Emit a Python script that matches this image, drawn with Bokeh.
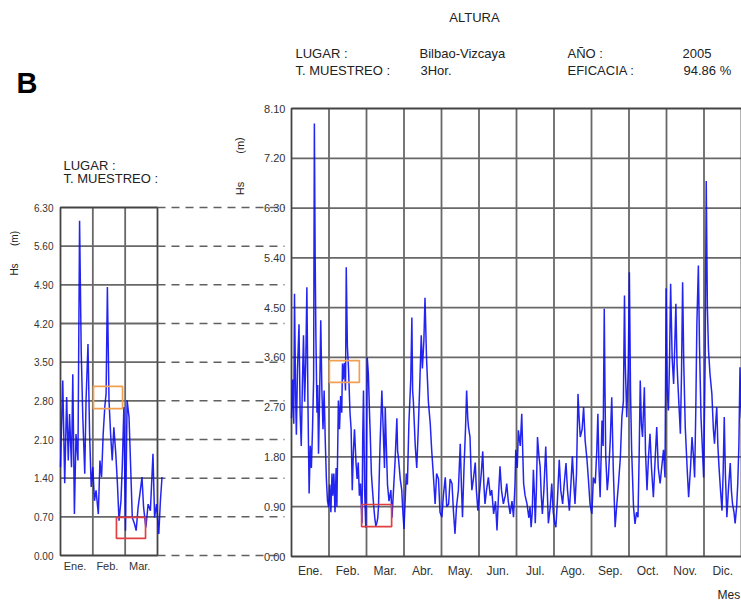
from bokeh.plotting import figure
from bokeh.models import (Range1d, LinearAxis, FixedTicker, PrintfTickFormatter,
                          CustomJSTickFormatter)
from bokeh.core.properties import value
from bokeh.embed import file_html
from bokeh.resources import INLINE

# ---------------- data ----------------
# main panel: time in months since 1 Jan 2005, Hs in metres
main_t = [0.00, 0.03, 0.06, 0.08, 0.11, 0.13, 0.16, 0.20, 0.23, 0.26, 0.29, 0.32, 0.35, 0.38, 0.41, 0.44,
          0.47, 0.50, 0.53, 0.56, 0.59, 0.61, 0.63, 0.65, 0.68, 0.70, 0.72, 0.75, 0.78, 0.81, 0.84, 0.87,
          0.90, 0.93, 0.96, 0.99,
          1.02, 1.05, 1.08, 1.10, 1.13, 1.16, 1.19, 1.21, 1.25, 1.28, 1.31, 1.34, 1.36, 1.38, 1.41, 1.44,
          1.46, 1.49, 1.52, 1.56, 1.59, 1.62, 1.65, 1.68, 1.72, 1.75, 1.78, 1.81, 1.84, 1.88, 1.90, 1.92,
          1.95, 1.98,
          2.00, 2.02, 2.05, 2.08, 2.10, 2.13, 2.16, 2.19, 2.22, 2.25, 2.28, 2.30, 2.32, 2.36, 2.41, 2.45,
          2.48, 2.50, 2.52, 2.56, 2.60, 2.65, 2.68, 2.72, 2.76, 2.81, 2.83, 2.85, 2.90, 2.94, 2.97, 3.00,
          3.03, 3.06, 3.09, 3.13, 3.18, 3.21, 3.23, 3.25, 3.30, 3.34, 3.38, 3.42, 3.46, 3.49, 3.53, 3.56,
          3.60, 3.65, 3.70, 3.74, 3.78, 3.83, 3.87, 3.92, 3.96,
          4.01, 4.05, 4.10, 4.14, 4.19, 4.23, 4.28, 4.32, 4.36, 4.40, 4.45, 4.50, 4.53, 4.56, 4.60, 4.64,
          4.67, 4.70, 4.72, 4.76, 4.79, 4.81, 4.85, 4.90, 4.93, 4.97,
          5.02, 5.06, 5.10, 5.13, 5.16, 5.20, 5.25, 5.30, 5.34, 5.39, 5.44, 5.48, 5.52, 5.56, 5.60, 5.65,
          5.70, 5.74, 5.78, 5.83, 5.88, 5.92, 5.96,
          5.98, 6.02, 6.05, 6.10, 6.14, 6.17, 6.19, 6.23, 6.28, 6.33, 6.36, 6.39, 6.42, 6.45, 6.48, 6.50,
          6.53, 6.56, 6.60, 6.63, 6.66, 6.69, 6.73, 6.78, 6.81, 6.85, 6.90, 6.94, 6.98,
          7.02, 7.05, 7.09, 7.14, 7.18, 7.23, 7.27, 7.32, 7.36, 7.41, 7.45, 7.49, 7.53, 7.56, 7.60, 7.64,
          7.67, 7.70, 7.75, 7.79, 7.83, 7.88, 7.92, 7.96,
          8.01, 8.05, 8.10, 8.14, 8.17, 8.20, 8.23, 8.28, 8.31, 8.34, 8.36, 8.38, 8.42, 8.45, 8.50, 8.54,
          8.58, 8.63, 8.67, 8.72, 8.77, 8.81, 8.85, 8.88, 8.90, 8.94, 8.98,
          9.01, 9.04, 9.07, 9.12, 9.16, 9.20, 9.24, 9.27, 9.30, 9.33, 9.36, 9.41, 9.44, 9.48, 9.52, 9.56,
          9.60, 9.65, 9.70, 9.74, 9.78, 9.83, 9.87, 9.92, 9.96,
          9.99, 10.02, 10.05, 10.08, 10.11, 10.15, 10.19, 10.22, 10.25, 10.28, 10.30, 10.37, 10.40, 10.43,
          10.46, 10.50, 10.55, 10.59, 10.64, 10.68, 10.72, 10.75, 10.78, 10.81, 10.85, 10.88, 10.92, 10.96,
          10.99,
          11.03, 11.06, 11.09, 11.12, 11.16, 11.21, 11.25, 11.28, 11.31, 11.34, 11.37, 11.40, 11.44, 11.48,
          11.51, 11.54, 11.57, 11.61, 11.65, 11.70, 11.73, 11.76, 11.80, 11.83, 11.87, 11.90, 11.93, 11.96,
          11.98, 12.00]
main_hs = [2.5, 3.2, 2.4, 4.75, 2.9, 2.2, 3.4, 4.2, 2.6, 2.0, 3.1, 4.0, 2.8, 3.5, 4.87, 2.7,
           1.14, 2.0, 1.6, 2.3, 3.2, 7.83, 5.5, 4.0, 2.6, 3.1, 1.86, 2.9, 4.27, 3.0, 2.3, 3.0,
           2.1, 1.4, 1.0, 0.89,
           1.3, 0.8, 1.5, 1.1, 1.5, 0.8, 1.6, 0.9, 2.82, 2.3, 2.9, 2.6, 3.49, 3.2, 3.5, 3.0,
           5.23, 3.8, 3.4, 2.6, 2.3, 1.2, 1.9, 2.3, 1.7, 1.4, 1.7, 1.1, 1.32, 0.6, 2.2, 3.0,
           1.2, 0.52,
           1.8, 3.6, 3.3, 2.6, 2.2, 1.5, 1.2, 0.93, 0.7, 0.55, 0.62, 0.7, 0.9, 2.0, 3.0, 2.2,
           1.6, 2.7, 2.2, 1.3, 1.0, 1.2, 0.7, 1.2, 1.7, 2.5, 1.9, 1.8, 1.4, 1.2, 0.8, 0.5,
           1.0, 1.5, 1.3, 2.4, 3.2, 4.32, 3.0, 2.8, 2.0, 1.6, 2.3, 3.1, 4.0, 3.4, 3.9, 4.68,
           3.6, 2.8, 2.4, 1.9, 1.5, 0.95, 1.5, 1.4, 0.8,
           0.71, 1.1, 1.43, 0.9, 0.95, 1.4, 1.32, 0.8, 0.41, 0.9, 1.2, 2.04, 1.3, 0.71, 1.6, 2.3,
           3.0, 2.5, 2.34, 2.16, 1.5, 1.2, 1.4, 1.7, 1.2, 0.83,
           1.2, 1.5, 1.9, 1.3, 0.95, 1.2, 1.43, 1.1, 1.2, 0.77, 1.0, 0.47, 1.1, 1.63, 1.2, 0.95,
           1.1, 1.32, 1.0, 0.77, 1.0, 0.71, 1.3,
           1.93, 1.6, 2.28, 2.0, 2.58, 1.8, 1.32, 1.1, 0.95, 0.7, 0.9, 0.53, 0.8, 1.57, 1.1, 0.6,
           1.2, 2.16, 1.8, 1.63, 1.1, 0.77, 1.2, 1.99, 1.4, 0.6, 0.9, 1.32, 0.8,
           0.6, 0.53, 1.0, 1.75, 1.2, 0.95, 1.3, 1.69, 1.2, 0.83, 1.3, 1.81, 1.3, 0.95, 1.5, 2.94,
           2.5, 2.16, 2.3, 2.7, 2.1, 1.75, 1.37, 0.95,
           0.77, 1.43, 1.32, 1.9, 2.58, 1.6, 1.07, 2.46, 2.0, 4.48, 3.0, 1.81, 1.2, 1.43, 2.1, 2.88,
           1.6, 0.53, 0.9, 1.32, 1.8, 2.52, 2.8, 4.72, 3.5, 2.52, 3.4,
           5.14, 3.0, 1.93, 0.9, 0.59, 0.8, 0.71, 1.8, 3.18, 2.4, 2.16, 3.06, 1.9, 1.2, 1.8, 2.22,
           1.6, 1.07, 1.8, 2.34, 1.6, 1.32, 1.6, 1.93, 1.43,
           4.85, 3.0, 2.64, 3.5, 4.93, 3.6, 3.12, 3.8, 4.57, 3.5, 3.18, 2.22, 3.3, 4.96,
           3.5, 2.34, 1.6, 1.07, 1.6, 2.16, 1.8, 1.43, 2.6, 4.21, 5.26, 3.8, 2.52, 1.9,
           1.43,
           3.5, 6.79, 4.5, 3.73, 3.3, 2.94, 2.3, 2.04, 2.4, 2.7, 2.0, 1.62, 1.2, 0.83,
           1.5, 2.52, 1.5, 0.71, 1.2, 1.69, 1.2, 0.95, 0.8, 0.6, 0.9, 1.32, 2.0, 3.42,
           2.8, 2.5]

# left panel (Jan-Mar)
left_t = [0.00, 0.07, 0.13, 0.19, 0.24, 0.28, 0.34, 0.38, 0.43, 0.48, 0.54, 0.59, 0.64, 0.69, 0.75,
          0.79, 0.85, 0.90, 0.95, 1.00, 1.05, 1.10, 1.17, 1.22, 1.27, 1.32, 1.37, 1.41, 1.45, 1.50,
          1.55, 1.60, 1.65, 1.71, 1.76, 1.81, 1.87, 1.91, 1.96, 2.01, 2.06, 2.12, 2.17, 2.22, 2.29,
          2.34, 2.40, 2.47, 2.52, 2.57, 2.64, 2.71, 2.78, 2.86, 2.91, 2.97, 3.04, 3.09, 3.14]
left_hs = [1.6, 3.17, 1.31, 2.87, 1.72, 2.56, 1.6, 3.28, 0.75, 2.2, 1.72, 6.06, 3.71, 2.5, 1.48,
           2.81, 3.83, 2.2, 1.24, 1.6, 0.99, 1.18, 0.75, 1.72, 1.42, 2.2, 2.69, 2.93, 4.86, 2.81,
           2.2, 1.72, 2.32, 1.84, 1.31, 0.63, 0.99, 1.6, 2.69, 0.45, 2.81, 2.5, 1.6, 0.69, 0.57,
           0.45, 0.87, 1.18, 1.42, 0.87, 0.51, 0.93, 0.81, 1.84, 0.69, 0.93, 0.39, 0.99, 1.42]

main_months = ["Ene.", "Feb.", "Mar.", "Abr.", "May.", "Jun.", "Jul.", "Ago.", "Sep.", "Oct.", "Nov.", "Dic."]
left_months = ["Ene.", "Feb.", "Mar."]
main_yticks = [0.0, 0.9, 1.8, 2.7, 3.6, 4.5, 5.4, 6.3, 7.2, 8.1]
left_yticks = [0.0, 0.7, 1.4, 2.1, 2.8, 3.5, 4.2, 4.9, 5.6, 6.3]

# highlighted windows (months, Hs)
main_boxes = dict(left=[1.01, 1.87], right=[1.81, 2.67], bottom=[3.15, 0.54], top=[3.54, 0.94],
                  color=["#F0A050", "#E04040"])
left_boxes = dict(left=[1.02, 1.73], right=[1.92, 2.63], bottom=[2.66, 0.31], top=[3.06, 0.69],
                  color=["#F0A050", "#E04040"])

# ---------------- layout constants (pixels) ----------------
W, H = 741, 601
MX0, MXS = 291.0, 37.5            # main: x pixel of month 0, pixels per month
MY0, MYS = 556.0, 448.0 / 8.1     # main: y pixel of Hs 0, pixels per metre
LX0, LXS = 60.0, 97.0 / 3.0       # left panel
LY0, LYS = 555.0, 348.0 / 6.3
DASH_END = 284.0

FONT = "Liberation Sans"
GRID = "#686868"
EDGE = "#444444"
BLUE = "#0c0cf0"

p = figure(width=W, height=H, output_backend="svg", toolbar_location=None,
           x_axis_type=None, y_axis_type=None,
           x_range=Range1d(-MX0 / MXS, (W - MX0) / MXS),
           y_range=Range1d(-(H - MY0) / MYS, MY0 / MYS),
           min_border=0, min_border_left=0, min_border_right=0,
           min_border_top=0, min_border_bottom=0)
p.outline_line_color = None
p.background_fill_color = "white"
p.border_fill_color = "white"
p.extra_x_ranges = {"L": Range1d(-LX0 / LXS, (W - LX0) / LXS), "px": Range1d(0, W)}
p.extra_y_ranges = {"L": Range1d(-(H - LY0) / LYS, LY0 / LYS), "px": Range1d(H, 0)}

# ---------------- main panel ----------------
n_m = len(main_months)
ytop = main_yticks[-1]
p.segment(x0=list(range(1, n_m)), x1=list(range(1, n_m)), y0=[0] * (n_m - 1), y1=[ytop] * (n_m - 1),
          line_color=GRID, line_width=1.8)
inner = main_yticks[1:-1]
p.segment(x0=[0] * len(inner), x1=[n_m] * len(inner), y0=inner, y1=inner, line_color=GRID, line_width=1.8)
p.quad(left=[0], right=[n_m], bottom=[0], top=[ytop], fill_alpha=0, line_color=EDGE, line_width=1.8)
p.line(main_t, main_hs, line_color=BLUE, line_width=1.5, line_alpha=0.9)
p.quad(left=main_boxes["left"], right=main_boxes["right"], bottom=main_boxes["bottom"], top=main_boxes["top"],
       fill_alpha=0, line_color=main_boxes["color"], line_width=1.7)

# ---------------- left panel ----------------
n_l = len(left_months)
ltop = left_yticks[-1]
p.segment(x0=list(range(1, n_l)), x1=list(range(1, n_l)), y0=[0] * (n_l - 1), y1=[ltop] * (n_l - 1),
          line_color=GRID, line_width=1.8, x_range_name="L", y_range_name="L")
linner = left_yticks[1:-1]
p.segment(x0=[0] * len(linner), x1=[n_l] * len(linner), y0=linner, y1=linner,
          line_color=GRID, line_width=1.8, x_range_name="L", y_range_name="L")
p.quad(left=[0], right=[n_l], bottom=[0], top=[ltop], fill_alpha=0, line_color=EDGE, line_width=1.8,
       x_range_name="L", y_range_name="L")
# dashed connectors from the left panel's grid to the main panel
dash_x1 = (DASH_END - LX0) / LXS
p.segment(x0=[n_l] * len(left_yticks), x1=[dash_x1] * len(left_yticks), y0=left_yticks, y1=left_yticks,
          line_color="#606060", line_width=1.5, line_dash="8 6", x_range_name="L", y_range_name="L")
p.line(left_t, left_hs, line_color=BLUE, line_width=1.5, line_alpha=0.9, x_range_name="L", y_range_name="L")
p.quad(left=left_boxes["left"], right=left_boxes["right"], bottom=left_boxes["bottom"], top=left_boxes["top"],
       fill_alpha=0, line_color=left_boxes["color"], line_width=1.7, x_range_name="L", y_range_name="L")

# ---------------- axes ----------------
def style(ax, size, standoff):
    ax.axis_line_color = None
    ax.major_tick_line_color = None
    ax.minor_tick_line_color = None
    ax.major_tick_in = 0
    ax.major_tick_out = 0
    ax.major_label_text_font = FONT
    ax.major_label_text_font_size = size
    ax.major_label_text_color = "#333333"
    ax.major_label_standoff = standoff

ay = LinearAxis(fixed_location=0, ticker=FixedTicker(ticks=main_yticks),
                formatter=PrintfTickFormatter(format="%.2f"))
style(ay, "11px", 6)
p.add_layout(ay, "left")

ax = LinearAxis(fixed_location=0, ticker=FixedTicker(ticks=[i + 0.5 for i in range(n_m)]),
                formatter=CustomJSTickFormatter(args=dict(names=main_months),
                                                code="return names[Math.floor(tick)];"))
style(ax, "12px", 7)
p.add_layout(ax, "below")

lay = LinearAxis(fixed_location=0, x_range_name="L", y_range_name="L",
                 ticker=FixedTicker(ticks=left_yticks), formatter=PrintfTickFormatter(format="%.2f"))
style(lay, "10px", 7)
p.add_layout(lay, "left")

lax = LinearAxis(fixed_location=0, x_range_name="L", y_range_name="L",
                 ticker=FixedTicker(ticks=[i + 0.45 for i in range(n_l)]),
                 formatter=CustomJSTickFormatter(args=dict(names=left_months),
                                                 code="return names[Math.floor(tick)];"))
style(lax, "11px", 4)
p.add_layout(lax, "below")

# ---------------- texts (pixel positions) ----------------
def txt(x, y, s, size="13px", align="left", bold=False, angle=0.0, color="#222222"):
    p.text(x=[x], y=[y], text=[s], x_range_name="px", y_range_name="px",
           text_font=value(FONT), text_font_size=size, text_align=align, text_baseline="middle",
           text_font_style="bold" if bold else "normal", angle=angle, text_color=color)

txt(474, 17, "ALTURA", align="center")
txt(295, 53, "LUGAR :")
txt(419, 53, "Bilbao-Vizcaya")
txt(567, 53, "AÑO :")
txt(682, 53, "2005")
txt(295, 70, "T. MUESTREO :")
txt(420, 70, "3Hor.")
txt(567, 70, "EFICACIA :")
txt(683, 70, "94.86 %")
txt(16, 82, "B", size="29px", bold=True, color="#000000")
txt(63, 165, "LUGAR :")
txt(63, 178, "T. MUESTREO :")
txt(14, 269, "Hs", size="10px", align="center", angle=1.5708)
txt(14, 238, "(m)", size="10px", align="center", angle=1.5708)
txt(239, 188, "Hs", size="11px", align="center", angle=1.5708)
txt(239, 145, "(m)", size="11px", align="center", angle=1.5708)
txt(717, 594, "Mes", size="12px")

open("out.html", "w").write(file_html(p, INLINE))
